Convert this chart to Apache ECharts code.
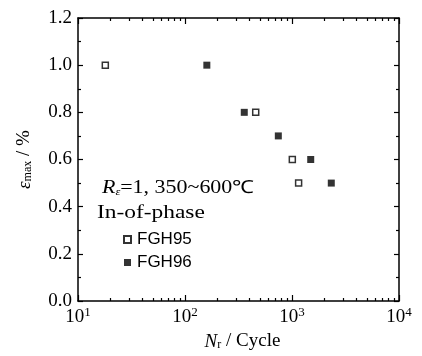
<!DOCTYPE html>
<html><head><meta charset="utf-8">
<script src="https://cdn.jsdelivr.net/npm/echarts@6/dist/echarts.min.js"></script>
<style>html,body{margin:0;padding:0;background:#fff}#c{width:422px;height:356px}</style>
</head><body><div id="c"></div>
<script>
const fgh95Cycles = [18, 458, 1007, 1153];
const fgh95Strain = [1.0, 0.8, 0.6, 0.5];
const fgh96Cycles = [160, 358, 745, 1496, 2329];
const fgh96Strain = [1.0, 0.8, 0.7, 0.6, 0.5];
const xMajorTicks = [10, 100, 1000, 10000];
const yTicks = [0, 0.2, 0.4, 0.6, 0.8, 1.0, 1.2];
const seriesNames = ['FGH95', 'FGH96'];

const xMinorTicks = [];
for (let d = 10; d < 10000; d *= 10) for (let k = 2; k <= 9; k++) xMinorTicks.push(d * k);

const serif = '"Liberation Serif","Times New Roman",serif';
const sans = '"Liberation Sans",Arial,sans-serif';
const lineStyle = {color: '#000', width: 1.5};
const nameRich = {
  i: {fontFamily: serif, fontStyle: 'italic', fontSize: 19, color: '#000'},
  sub: {fontFamily: serif, fontSize: 12, color: '#000', verticalAlign: 'bottom', padding: [7, 0, 0, 0]},
  n: {fontFamily: serif, fontSize: 19, color: '#000'}
};

function xAx(pos, showLabel, ticks, len, showLine, name) {
  return {
    type: 'log', logBase: 10, min: 10, max: 10000, position: pos,
    axisLine: {show: showLine, onZero: false, lineStyle},
    axisTick: {show: true, inside: true, length: len, customValues: ticks, lineStyle: {color: '#000', width: 1.2}},
    axisLabel: {show: showLabel, customValues: xMajorTicks, margin: 5,
      formatter: v => '{b|10}{s|' + Math.round(Math.log10(v)) + '}',
      rich: {b: {fontFamily: serif, fontSize: 19, color: '#000'}, s: {fontFamily: serif, fontSize: 13, color: '#000', verticalAlign: 'top', padding: [0, 0, 9, 0]}}},
    splitLine: {show: false},
    name: name || '', nameLocation: 'middle', nameGap: 31,
    nameTextStyle: {rich: nameRich, padding: [0, 0, 0, 8]}
  };
}
function yAx(pos, showLabel, name) {
  return {
    type: 'value', min: 0, max: 1.2, interval: 0.2, position: pos,
    axisLine: {show: true, onZero: false, lineStyle},
    axisTick: {show: true, inside: true, length: 5, lineStyle: {color: '#000', width: 1.2}},
    minorTick: {show: true, splitNumber: 2, length: 3, lineStyle: {color: '#000', width: 1.2}},
    axisLabel: {show: showLabel, fontFamily: serif, fontSize: 19, color: '#000', margin: 6, formatter: v => v.toFixed(1)},
    splitLine: {show: false},
    name: name || '', nameLocation: 'middle', nameGap: 44, nameRotate: 90,
    nameTextStyle: {rich: nameRich}
  };
}

const chart = echarts.init(document.getElementById('c'), null, {renderer: 'canvas'});
chart.setOption({
  animation: false,
  grid: {left: 78, right: 23, top: 18, bottom: 52},
  xAxis: [
    xAx('bottom', true, xMajorTicks, 6, true, '{i|N}{sub|r}{n| / Cycle}'),
    xAx('bottom', false, xMinorTicks, 3, false),
    xAx('top', false, xMajorTicks, 6, true),
    xAx('top', false, xMinorTicks, 3, false)
  ],
  yAxis: [
    yAx('left', true, '{i|ε}{sub|max}{n| / %}'),
    yAx('right', false)
  ],
  legend: {
    orient: 'vertical', left: 118, top: 226, itemGap: 6, itemWidth: 7, itemHeight: 7,
    icon: 'rect', data: seriesNames,
    textStyle: {fontFamily: sans, fontSize: 17, color: '#000', padding: [0, 0, 0, 1]}
  },
  graphic: [
    {type: 'text', left: 102, top: 179, scaleX: 1.22, style: {
      text: '{i|R}{sub|ε}{n|=1, 350~600℃}',
      rich: {i: {fontFamily: serif, fontStyle: 'italic', fontSize: 18, fill: '#000'}, sub: {fontFamily: serif, fontStyle: 'italic', fontSize: 10, fill: '#000', verticalAlign: 'bottom', padding: [9, 0, 0, 0]}, n: {fontFamily: serif, fontSize: 18, fill: '#000'}}
    }},
    {type: 'text', left: 97, top: 204, scaleX: 1.3, style: {text: 'In-of-phase', fontFamily: serif, fontSize: 18, fill: '#000'}}
  ],
  series: [
    {name: seriesNames[0], type: 'scatter', symbol: 'rect', symbolSize: 6,
     itemStyle: {color: '#fff', borderColor: '#000', borderWidth: 1.5},
     data: fgh95Cycles.map((c, i) => [c, fgh95Strain[i]])},
    {name: seriesNames[1], type: 'scatter', symbol: 'rect', symbolSize: 7,
     itemStyle: {color: '#000'},
     data: fgh96Cycles.map((c, i) => [c, fgh96Strain[i]])}
  ]
});
</script></body></html>
